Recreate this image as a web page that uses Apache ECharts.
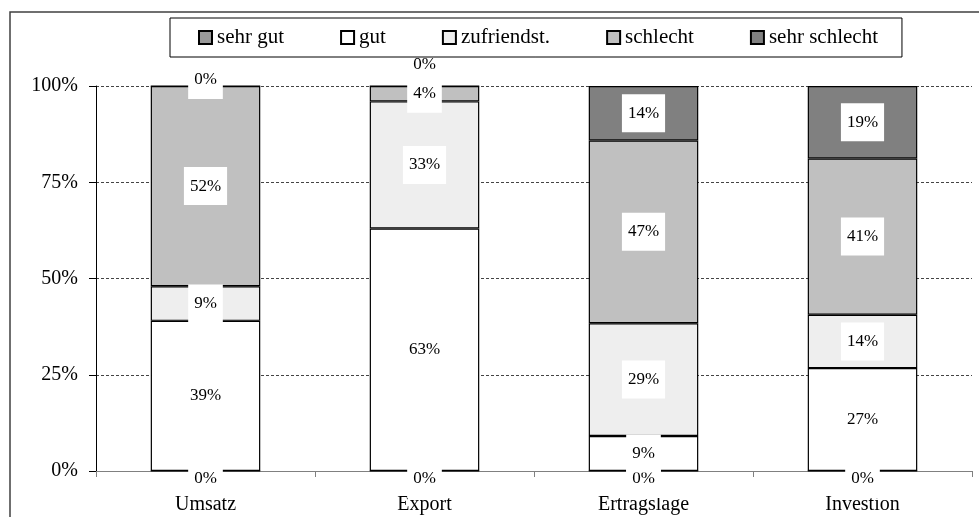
<!DOCTYPE html>
<html>
<head>
<meta charset="utf-8">
<script src="https://cdn.jsdelivr.net/npm/echarts@6/dist/echarts.min.js"></script>
<style>
html,body{margin:0;padding:0;background:#fff;}
#chart{width:979px;height:517px;}
</style>
</head>
<body>
<div id="chart"></div>
<script>
const categories = ['Umsatz', 'Export', 'Ertragslage', 'Investion'];
const seriesNames = ['sehr gut', 'gut', 'zufriendst.', 'schlecht', 'sehr schlecht'];
const sehrGut = [0, 0, 0, 0];
const gut = [39, 63, 9, 27];
const zufrieden = [9, 33, 29, 14];
const schlecht = [52, 4, 47, 41];
const sehrSchlecht = [0, 0, 14, 19];
const yTickLabels = ['0%', '25%', '50%', '75%', '100%'];

const seriesValues = [sehrGut, gut, zufrieden, schlecht, sehrSchlecht];
const seriesColors = ['#999999', '#ffffff', '#eeeeee', '#c0c0c0', '#808080'];

const FONT = '"Liberation Serif", "Times New Roman", serif';
const totals = categories.map((c, i) => seriesValues.reduce((s, arr) => s + arr[i], 0));

const series = seriesValues.map((arr, si) => ({
  name: seriesNames[si],
  type: 'bar',
  stack: 'total',
  barWidth: '50%',
  itemStyle: { color: seriesColors[si], borderColor: '#000', borderWidth: 1.2 },
  label: {
    show: true,
    position: 'inside',
    fontFamily: FONT,
    fontSize: 17,
    color: '#000',
    backgroundColor: '#fff',
    padding: [11, 6, 10, 6],
    formatter: (p) => arr[p.dataIndex] + '%'
  },
  data: arr.map((v, i) => {
    const item = { value: v / totals[i] * 100 };
    if (v === 0 && si === 0) {
      item.label = { offset: [0, 8] };
    } else if (v === 0 && si === seriesValues.length - 1) {
      const below = seriesValues[si - 1][i];
      item.label = { offset: [0, below < 8 ? -21 : -6] };
    }
    return item;
  })
}));

const chart = echarts.init(document.getElementById('chart'), null, { renderer: 'canvas' });
chart.setOption({
  animation: false,
  backgroundColor: '#fff',
  textStyle: { fontFamily: FONT },
  graphic: [{
    type: 'polyline',
    shape: { points: [[10, 530], [10, 12], [990, 12]] },
    style: { fill: 'none', stroke: '#404040', lineWidth: 1.5 },
    z: 0, silent: true
  }],
  legend: {
    data: seriesNames,
    left: 170,
    top: 18,
    padding: [9, 24, 9, 28],
    itemGap: 56,
    itemWidth: 13,
    itemHeight: 13,
    borderColor: '#000',
    borderWidth: 1,
    icon: 'rect',
    textStyle: { fontFamily: FONT, fontSize: 21, color: '#000' }
  },
  grid: { left: 96, right: 7, top: 86, bottom: 46, containLabel: false },
  xAxis: {
    type: 'category',
    data: categories,
    boundaryGap: true,
    axisLine: { show: true, lineStyle: { color: '#808080', width: 1 } },
    axisTick: { show: true, length: 6, lineStyle: { color: '#808080' } },
    axisLabel: { fontFamily: FONT, fontSize: 20, color: '#000', margin: 24 }
  },
  yAxis: {
    type: 'value',
    min: 0, max: 100, interval: 25,
    axisLine: { show: true, lineStyle: { color: '#000', width: 1 } },
    axisTick: { show: true, length: 7, lineStyle: { color: '#000' } },
    axisLabel: {
      fontFamily: FONT, fontSize: 20, color: '#000', margin: 18,
      formatter: (v) => yTickLabels[Math.round(v / 25)]
    },
    splitLine: { show: true, lineStyle: { color: '#444', type: [3, 2], width: 1 } }
  },
  series: series
});
</script>
</body>
</html>
